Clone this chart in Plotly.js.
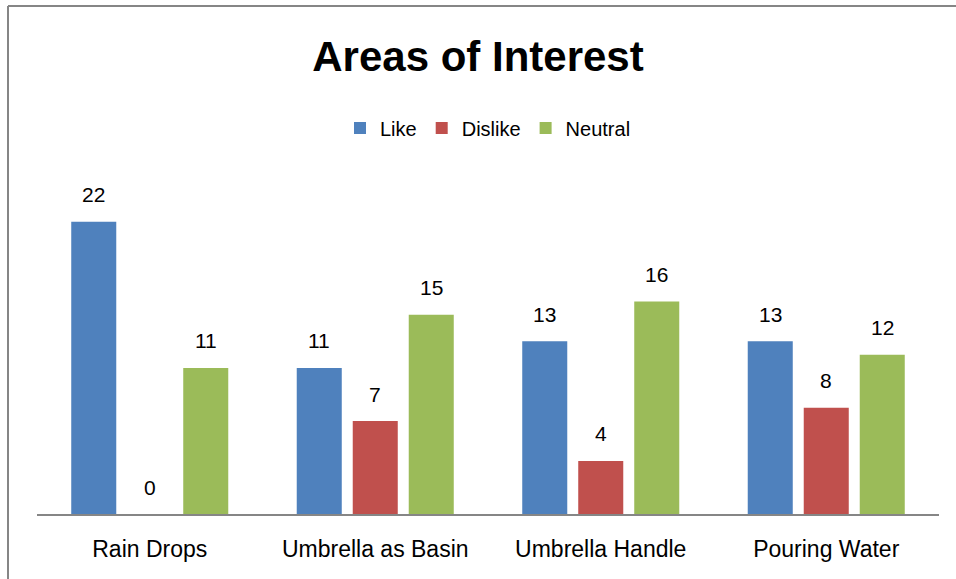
<!DOCTYPE html>
<html>
<head>
<meta charset="utf-8">
<script src="https://cdn.plot.ly/plotly-3.0.1.min.js"></script>
<style>
html,body{margin:0;padding:0;background:#fff;}
#chart{width:956px;height:579px;}
</style>
</head>
<body>
<div id="chart"></div>
<script>
var categories = ["Rain Drops", "Umbrella as Basin", "Umbrella Handle", "Pouring Water"];
var seriesNames = ["Like", "Dislike", "Neutral"];
var likeValues = [22, 11, 13, 13];
var dislikeValues = [0, 7, 4, 8];
var neutralValues = [11, 15, 16, 12];
var seriesColors = ["#4F81BD", "#C0504D", "#9BBB59"];

var allValues = [likeValues, dislikeValues, neutralValues];
var fontFam = "Liberation Sans, Arial, sans-serif";
var bargap = 0.255;

var traces = allValues.map(function(vals, j){
  return {
    type: "bar",
    name: seriesNames[j],
    x: categories,
    y: vals,
    marker: {color: seriesColors[j], line: {width: 0}},
    hoverinfo: "none"
  };
});

var annotations = [];
var slot = (1 - bargap) / allValues.length;
allValues.forEach(function(vals, j){
  vals.forEach(function(v, i){
    annotations.push({
      x: i + (j - (allValues.length - 1) / 2) * slot,
      y: v,
      xref: "x", yref: "y",
      text: String(v),
      showarrow: false,
      yanchor: "middle",
      yshift: 27,
      font: {family: fontFam, size: 21, color: "#000"}
    });
  });
});

var layout = {
  width: 956, height: 579,
  paper_bgcolor: "#fff", plot_bgcolor: "#fff",
  margin: {l: 37, r: 17, t: 182, b: 65},
  title: {
    text: "<b>Areas of Interest</b>",
    font: {family: fontFam, size: 42, color: "#000"},
    x: 0.5, xanchor: "center",
    y: 1 - 56 / 579, yanchor: "middle", yref: "container"
  },
  showlegend: true,
  legend: {
    orientation: "h",
    x: 0.5, xanchor: "center",
    y: (514 - 128) / 332, yanchor: "middle",
    font: {family: fontFam, size: 20, color: "#000"},
    itemclick: false, itemdoubleclick: false,
    traceorder: "normal"
  },
  barmode: "group",
  bargap: bargap,
  bargroupgap: 0.196,
  xaxis: {
    type: "category",
    showline: true, linecolor: "#868686", linewidth: 2,
    ticks: "", showgrid: false, zeroline: false,
    tickfont: {family: fontFam, size: 23, color: "#000"},
    ticklabelstandoff: 13
  },
  yaxis: {
    range: [0, 25],
    showticklabels: false, showgrid: false, zeroline: false, showline: false, ticks: ""
  },
  annotations: annotations,
  shapes: [
    {type: "line", xref: "paper", yref: "paper",
     x0: (8 - 37) / 902, x1: (960 - 37) / 902, y0: (514 - 6) / 332, y1: (514 - 6) / 332,
     line: {color: "#868686", width: 2}},
    {type: "line", xref: "paper", yref: "paper",
     x0: (8 - 37) / 902, x1: (8 - 37) / 902, y0: (514 - 6) / 332, y1: (514 - 585) / 332,
     line: {color: "#868686", width: 2}}
  ]
};

Plotly.newPlot("chart", traces, layout, {displayModeBar: false, staticPlot: true});
</script>
</body>
</html>
